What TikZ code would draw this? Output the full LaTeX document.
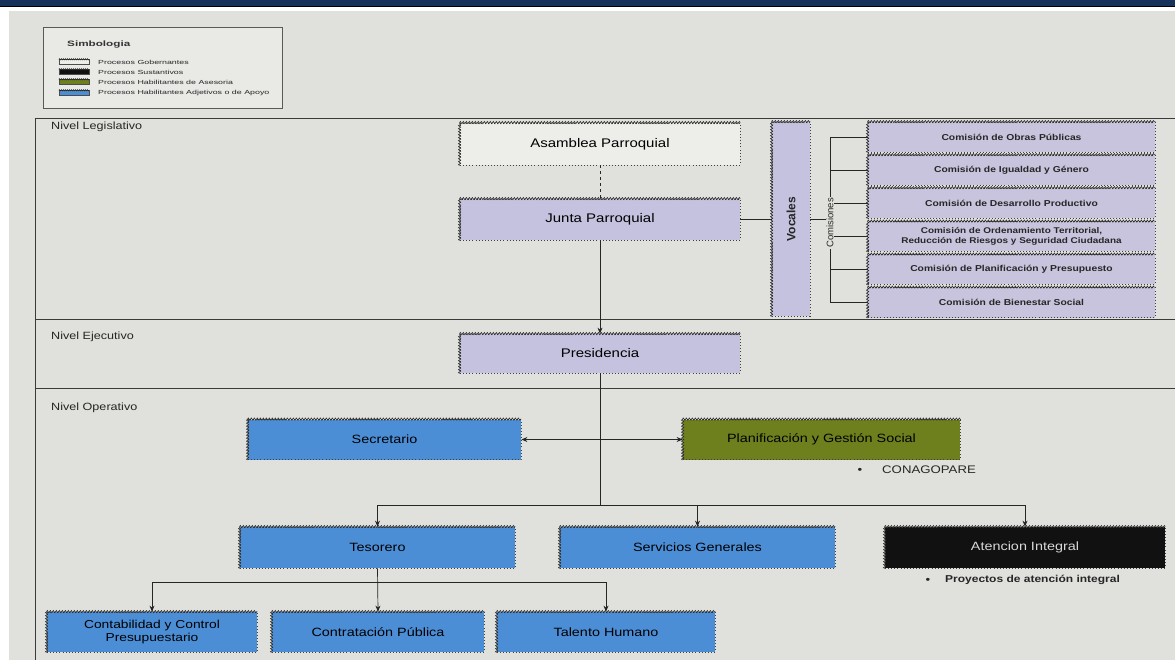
\documentclass[tikz,border=0pt]{standalone}
\usepackage{fontspec}
\setmainfont[FakeStretch=1.2]{Liberation Sans}
\newfontfamily\plainfont{Liberation Sans}
\newfontfamily\legfont[FakeStretch=1.5]{Liberation Sans}
\usetikzlibrary{arrows.meta,decorations.pathmorphing}
\definecolor{bgc}{HTML}{E0E0DC}
\definecolor{navy}{HTML}{16325A}
\definecolor{lav}{HTML}{C4C2DE}
\definecolor{lavc}{HTML}{C9C4DD}
\definecolor{whitebox}{HTML}{EDEDEA}
\definecolor{bluebox}{HTML}{4C8ED6}
\definecolor{olive}{HTML}{6E7F1E}
\definecolor{blackbox}{HTML}{111111}
\definecolor{framec}{HTML}{3A3A3A}
\definecolor{legbg}{HTML}{E9E9E6}
\begin{document}
\begin{tikzpicture}[x=1pt,y=-1pt,
  box/.style={draw=black!75, line width=0.8pt, dash pattern=on 0.9pt off 2.2pt,
    inner sep=2pt, align=center, text=black, font=\fontsize{12.5}{14}\selectfont},
  opbox/.style={box, fill=bluebox, text=black, font=\fontsize{12}{13.5}\selectfont},
  combox/.style={box, fill=lavc, minimum width=287, minimum height=30,
    font=\bfseries\fontsize{8.6}{10}\selectfont, text=black!85},
  hatch/.style={draw=black!85, line width=0.6pt, decorate,
    decoration={zigzag, amplitude=1.1pt, segment length=3pt}},
  frame/.style={draw=framec, line width=0.8pt},
  conn/.style={draw=black!85, line width=0.7pt},
  arr/.style={conn, -{Stealth[length=6pt,width=5pt]}},
  lvl/.style={font=\fontsize{10.5}{12}\selectfont, text=black!85, inner sep=0pt},
  legtext/.style={font=\legfont\fontsize{5.9}{7}\selectfont, text=black!85, inner sep=0pt},
  swatch/.style={draw=black!70, line width=0.4pt, minimum width=30, minimum height=5, inner sep=0pt},
  note/.style={font=\fontsize{11}{12}\selectfont, text=black!85, inner sep=0pt}
]
\useasboundingbox (0,0) rectangle (1175,660);
% page
\fill[white] (0,0) rectangle (1175,660);
\fill[bgc] (9,11) rectangle (1175,660);
\fill[navy] (0,0) rectangle (1175,6);
\draw[line width=1.2pt, black] (0,6.6) -- (1175,6.6);

% frame of levels
\draw[frame] (35,118) -- (1175,118);
\draw[frame] (35,118) -- (35,660);
\draw[frame] (35,319) -- (1175,319);
\draw[frame] (35,388) -- (1175,388);
\node[lvl, anchor=west] (nleg) at (51,127) {Nivel Legislativo};
\node[lvl, anchor=west] (nejec) at (51,337) {Nivel Ejecutivo};
\node[lvl, anchor=west] (noper) at (51,408) {Nivel Operativo};

% legend
\node[draw=black!65, line width=0.6pt, fill=legbg, minimum width=239, minimum height=81,
  anchor=north west, inner sep=0pt] (legend) at (43,27) {};
\node[font=\legfont\bfseries\fontsize{7.8}{9}\selectfont, text=black!80, anchor=west, inner sep=0pt] (simb) at (67,45) {Simbologia};
\node[swatch, fill=whitebox] (s1) at (74,62) {};
\node[swatch, fill=blackbox] (s2) at (74,72) {};
\node[swatch, fill=olive] (s3) at (74,82) {};
\node[swatch, fill=bluebox] (s4) at (74,93) {};
\node[legtext, anchor=west] (t1) at (98,62) {Procesos Gobernantes};
\node[legtext, anchor=west] (t2) at (98,72) {Procesos Sustantivos};
\node[legtext, anchor=west] (t3) at (98,82) {Procesos Habilitantes de Asesoria};
\node[legtext, anchor=west] (t4) at (98,93) {Procesos Habilitantes Adjetivos o de Apoyo};

% legislative level
\node[box, fill=whitebox, minimum width=280, minimum height=42] (asamblea) at (600,144) {Asamblea Parroquial};
\node[box, fill=lav, minimum width=280, minimum height=41] (junta) at (600,219.5) {Junta Parroquial};
\node[box, fill=lav, minimum width=38, minimum height=194] (vocales) at (791,219) {};
\node[rotate=90, font=\plainfont\bfseries\fontsize{12}{14}\selectfont, text=black!85, inner sep=0pt] (voctxt) at (vocales.center) {Vocales};

\node[combox] (c1) at (1011.5,137) {Comisión de Obras Públicas};
\node[combox] (c2) at (1011.5,170) {Comisión de Igualdad y Género};
\node[combox] (c3) at (1011.5,203) {Comisión de Desarrollo Productivo};
\node[combox, font=\bfseries\fontsize{8.3}{9.6}\selectfont] (c4) at (1011.5,236.5) {Comisión de Ordenamiento Territorial,\\Reducción de Riesgos y Seguridad Ciudadana};
\node[combox] (c5) at (1011.5,269.5) {Comisión de Planificación y Presupuesto};
\node[combox] (c6) at (1011.5,302.5) {Comisión de Bienestar Social};

% executive level
\node[box, fill=lav, minimum width=280, minimum height=39] (presidencia) at (600,353.5) {Presidencia};

% operative level
\node[opbox, minimum width=273, minimum height=40] (secretario) at (384.5,439.5) {Secretario};
\node[opbox, fill=olive, minimum width=277, minimum height=40] (planif) at (821.5,439.5) {Planificación y Gestión Social};
\node[note, anchor=west] (conago) at (882,470) {CONAGOPARE};
\node[note, anchor=center] (bul1) at (860,471) {•};

\node[opbox, minimum width=275, minimum height=41] (tesorero) at (377.5,547.5) {Tesorero};
\node[opbox, minimum width=275, minimum height=41] (servicios) at (697.5,547.5) {Servicios Generales};
\node[opbox, fill=blackbox, text=black!15, minimum width=280, minimum height=41] (atencion) at (1025,547.5) {Atencion Integral};
\node[note, anchor=west, font=\bfseries\fontsize{10}{11}\selectfont] (proy) at (945,580) {Proyectos de atención integral};
\node[note, anchor=center] (bul2) at (928,581) {•};

\node[opbox, minimum width=210, minimum height=40, font=\fontsize{11.5}{12.5}\selectfont] (contab) at (152,632) {Contabilidad y Control\\Presupuestario};
\node[opbox, minimum width=212, minimum height=40] (contrat) at (378,632) {Contratación Pública};
\node[opbox, minimum width=218, minimum height=40] (talento) at (606,632) {Talento Humano};

% hatched top and left edges
\foreach \n in {asamblea,junta,vocales,c1,c2,c3,c4,c5,c6,presidencia,secretario,planif,tesorero,servicios,atencion,contab,contrat,talento}{
  \draw[hatch] (\n.north west) -- (\n.north east);
  \draw[hatch] (\n.south west) -- (\n.north west);
}
\foreach \n in {s1,s2,s3,s4}{
  \draw[hatch, line width=0.4pt, decoration={zigzag, amplitude=0.8pt, segment length=2pt}] (\n.north west) -- (\n.north east);
}

% connectors
\draw[conn, dashed] (asamblea.south) -- (junta.north);
\draw[arr] (junta.south) -- (presidencia.north);
\draw[conn] (junta.east) -- (vocales.west |- junta.east);
\coordinate (trunk) at (830,219);
\draw[conn] (vocales.east |- trunk) -- (trunk);
\draw[conn] (c1.west -| trunk) -- (c6.west -| trunk);
\foreach \n in {c1,c2,c3,c4,c5,c6}{
  \draw[conn] (\n.west -| trunk) -- (\n.west);
}
\node[rotate=90, fill=bgc, inner sep=1pt, font=\plainfont\fontsize{9.5}{11}\selectfont, text=black!85] (comlbl) at (830,223) {Comisiones};

\coordinate (b1) at (600,505);
\draw[conn] (presidencia.south) -- (b1);
\draw[conn, {Stealth[length=6pt,width=5pt]}-{Stealth[length=6pt,width=5pt]}] (secretario.east) -- (planif.west);
\draw[arr] (b1) -| (tesorero.north);
\draw[arr] (b1) -| (servicios.north);
\draw[arr] (b1) -| (atencion.north);

\coordinate (b2) at (377.5,582);
\draw[arr] (tesorero.south) -- (contrat.north);
\draw[arr] (b2) -| (contab.north);
\draw[arr] (b2) -| (talento.north);
\end{tikzpicture}
\end{document}
